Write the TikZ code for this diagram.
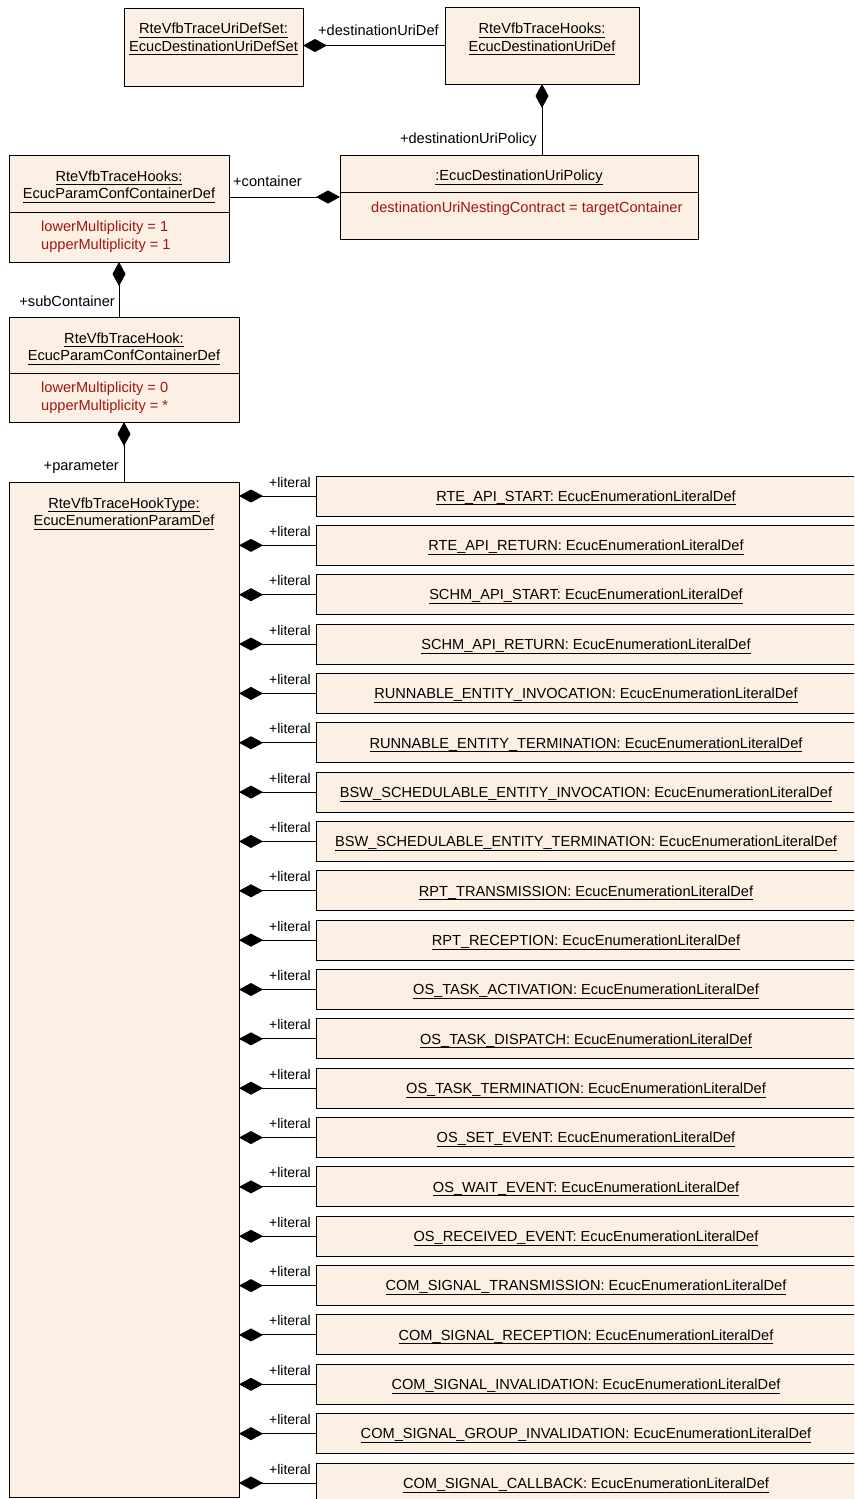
\documentclass[tikz,border=0pt]{standalone}
\usepackage{fontspec}
\setmainfont{Liberation Sans}
\usetikzlibrary{arrows.meta}
\definecolor{boxfill}{RGB}{251,240,227}
\definecolor{attrred}{RGB}{165,20,20}
\newcommand\myul[1]{\setbox0=\hbox{#1}\rlap{\rule[-4pt]{\wd0}{0.8pt}}\box0}
\tikzset{
  cls/.style={draw=black, line width=1pt, fill=boxfill, rectangle, inner sep=0pt, outer sep=0pt},
  ttl/.style={align=center, inner sep=0pt, font=\fontsize{14.6}{17.5}\selectfont},
  attr/.style={align=left, anchor=west, inner sep=0pt, text=attrred, font=\fontsize{14.6}{18}\selectfont},
  lbl/.style={inner sep=0pt, font=\fontsize{14.6}{17.5}\selectfont},
  comp/.style={line width=1pt, -{Diamond[length=24pt,width=13pt]}},
  sep/.style={line width=1pt}
}
\begin{document}
\begin{tikzpicture}[x=1pt,y=-1pt]
\useasboundingbox (0,0) rectangle (854,1499);
\clip (0,0) rectangle (854,1499);
% top-left set
\node[cls, minimum width=179pt, minimum height=78pt] (N1) at (213.5,47) {};
\node[ttl] (N1t) at (213.5,39) {\myul{RteVfbTraceUriDefSet:}\\\myul{EcucDestinationUriDefSet}};
% hooks uri def
\node[cls, minimum width=194pt, minimum height=77pt] (N2) at (542,45.5) {};
\node[ttl] (N2t) at (542,39) {\myul{RteVfbTraceHooks:}\\\myul{EcucDestinationUriDef}};
% policy
\node[cls, minimum width=358pt, minimum height=84pt] (N3) at (519,197) {};
\node[ttl] (N3t) at (519,177.5) {\myul{:EcucDestinationUriPolicy}};
\draw[sep] (N3.west |- 0,192) -- (N3.east |- 0,192);
\node[attr] (N3a) at (371,208.5) {destinationUriNestingContract = targetContainer};
% hooks container
\node[cls, minimum width=220pt, minimum height=107pt] (N4) at (119,208.5) {};
\node[ttl] (N4t) at (119,186.5) {\myul{RteVfbTraceHooks:}\\\myul{EcucParamConfContainerDef}};
\draw[sep] (N4.west |- 0,212) -- (N4.east |- 0,212);
\node[attr] (N4a) at (41,236.5) {lowerMultiplicity = 1\\upperMultiplicity = 1};
% hook
\node[cls, minimum width=230pt, minimum height=105pt] (N5) at (124,369.5) {};
\node[ttl] (N5t) at (124,348.5) {\myul{RteVfbTraceHook:}\\\myul{EcucParamConfContainerDef}};
\draw[sep] (N5.west |- 0,373) -- (N5.east |- 0,373);
\node[attr] (N5a) at (41,397.5) {lowerMultiplicity = 0\\upperMultiplicity = *};
% hook type
\node[cls, minimum width=230pt, minimum height=1015pt] (N6) at (124,989.5) {};
\node[ttl] (N6t) at (124,513.5) {\myul{RteVfbTraceHookType:}\\\myul{EcucEnumerationParamDef}};
% connectors top
\draw[comp] (N2.west) -- (N1.east |- N2.west);
\node[lbl, anchor=west] (L1) at (318,30) {+destinationUriDef};
\draw[comp] (N3.north -| N2.south) -- (N2.south);
\node[lbl, anchor=east] (L2) at (537,140) {+destinationUriPolicy};
\draw[comp] (N4.east |- N3.west) -- (N3.west);
\node[lbl, anchor=west] (L3) at (233,181) {+container};
\draw[comp] (N5.north -| N4.south) -- (N4.south);
\node[lbl, anchor=east] (L4) at (115,301) {+subContainer};
\draw[comp] (N6.north -| N5.south) -- (N5.south);
\node[lbl, anchor=east] (L5) at (119,467) {+parameter};
% literals
\foreach \i/\nm in {0/RTE\_API\_START,1/RTE\_API\_RETURN,2/SCHM\_API\_START,3/SCHM\_API\_RETURN,
  4/RUNNABLE\_ENTITY\_INVOCATION,5/RUNNABLE\_ENTITY\_TERMINATION,
  6/BSW\_SCHEDULABLE\_ENTITY\_INVOCATION,7/BSW\_SCHEDULABLE\_ENTITY\_TERMINATION,
  8/RPT\_TRANSMISSION,9/RPT\_RECEPTION,10/OS\_TASK\_ACTIVATION,11/OS\_TASK\_DISPATCH,
  12/OS\_TASK\_TERMINATION,13/OS\_SET\_EVENT,14/OS\_WAIT\_EVENT,15/OS\_RECEIVED\_EVENT,
  16/COM\_SIGNAL\_TRANSMISSION,17/COM\_SIGNAL\_RECEPTION,18/COM\_SIGNAL\_INVALIDATION,
  19/COM\_SIGNAL\_GROUP\_INVALIDATION,20/COM\_SIGNAL\_CALLBACK}{
  \pgfmathsetmacro\ytop{476+49.35*\i}
  \node[cls, minimum width=540pt, minimum height=40pt, anchor=north west] (Lit\i) at (316,\ytop) {};
  \node[ttl] (Lit\i t) at (586,\ytop+22) {\myul{\nm: EcucEnumerationLiteralDef}};
  \draw[comp] (Lit\i.west) -- (N6.east |- Lit\i.west);
  \node[lbl, anchor=east, font=\fontsize{14}{17}\selectfont] (LL\i) at (311,\ytop+6) {+literal};
}
\end{tikzpicture}
\end{document}
